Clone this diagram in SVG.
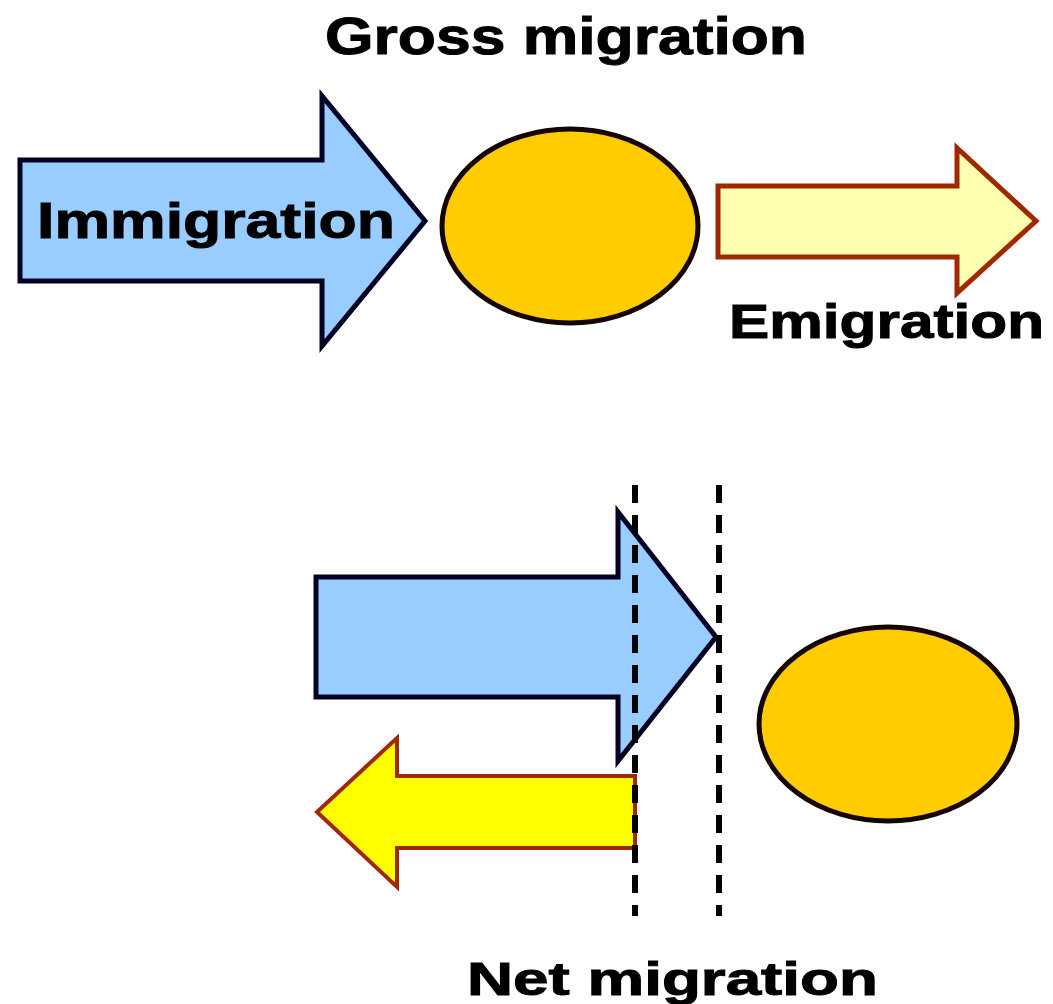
<svg xmlns="http://www.w3.org/2000/svg" width="1053" height="1004" viewBox="0 0 1053 1004">
<style>
.lbl{font-family:"Liberation Sans",Arial,sans-serif;font-weight:bold;fill:#000;stroke:#000;stroke-width:1;}
.blue{fill:#99ccff;stroke:#000022;stroke-width:5;stroke-linejoin:miter;}
.pale{fill:#ffffb0;stroke:#a02800;stroke-width:5;stroke-linejoin:miter;}
.yel{fill:#ffff00;stroke:#a02800;stroke-width:4;stroke-linejoin:miter;}
.circ{fill:#ffcc00;stroke:#150500;stroke-width:5;}
.dash{stroke:#000;stroke-width:6;stroke-dasharray:18 12;fill:none;}
</style>
<rect width="1053" height="1004" fill="#fff"/>
<text class="lbl" x="325" y="54" font-size="52" textLength="482" lengthAdjust="spacingAndGlyphs">Gross migration</text>
<g id="immigration">
<polygon class="blue" points="20,160 322,160 322,96 425,221 322,346 322,281 20,281"/>
<text class="lbl" x="37" y="238" font-size="50" textLength="358" lengthAdjust="spacingAndGlyphs">Immigration</text>
</g>
<g id="region-top">
<ellipse class="circ" cx="570" cy="226" rx="128" ry="97"/>
</g>
<g id="emigration">
<polygon class="pale" points="718,186 957,186 957,148 1036,221 957,293 957,257 718,257"/>
<text class="lbl" x="729" y="338" font-size="49" textLength="315" lengthAdjust="spacingAndGlyphs">Emigration</text>
</g>
<g id="net-in">
<polygon class="blue" points="316,577 618,577 618,512 716,637 618,761 618,697 316,697"/>
</g>
<g id="net-out">
<polygon class="yel" points="635,776 397,776 397,738 317,812 397,887 397,848 635,848"/>
</g>
<g id="region-bottom">
<ellipse class="circ" cx="888" cy="724" rx="129" ry="97"/>
</g>
<g id="connectors">
<line class="dash" x1="635" y1="485" x2="635" y2="916"/>
<line class="dash" x1="719" y1="485" x2="719" y2="916"/>
</g>
<text class="lbl" x="467" y="995" font-size="47" textLength="411" lengthAdjust="spacingAndGlyphs">Net migration</text>
</svg>
